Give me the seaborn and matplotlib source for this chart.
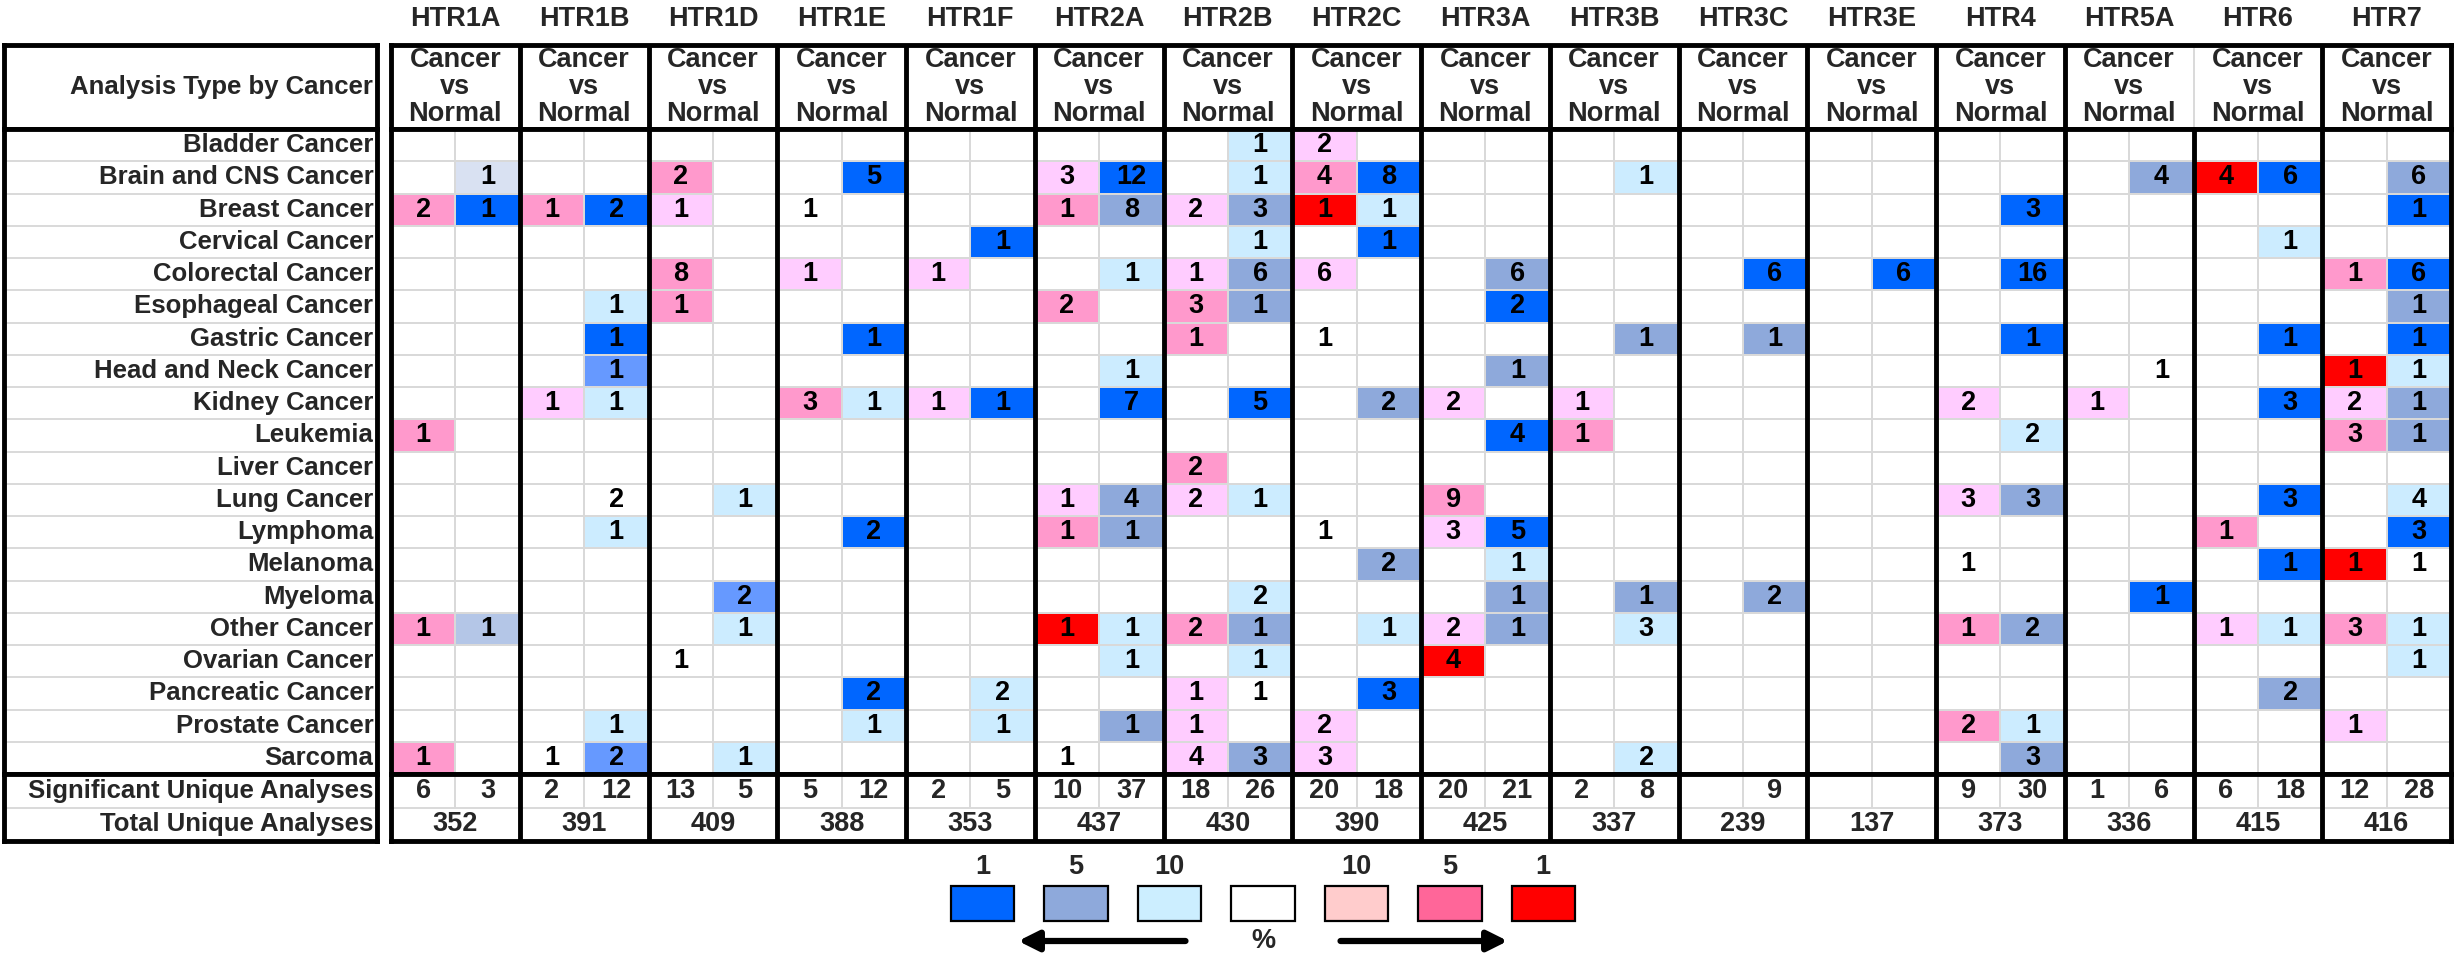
import numpy as np
import pandas as pd
import matplotlib
matplotlib.use("Agg")
import matplotlib.pyplot as plt
from matplotlib.colors import ListedColormap, BoundaryNorm
import seaborn as sns

sns.set_theme(style="white")
plt.rcParams["font.family"] = ["Liberation Sans", "DejaVu Sans"]
plt.rcParams["font.weight"] = "bold"

# ── data ────────────────────────────────────────────────────────────────────
genes = ["HTR1A", "HTR1B", "HTR1D", "HTR1E", "HTR1F", "HTR2A", "HTR2B", "HTR2C",
         "HTR3A", "HTR3B", "HTR3C", "HTR3E", "HTR4", "HTR5A", "HTR6", "HTR7"]

cancer_types = ["Bladder Cancer", "Brain and CNS Cancer", "Breast Cancer", "Cervical Cancer",
                "Colorectal Cancer", "Esophageal Cancer", "Gastric Cancer",
                "Head and Neck Cancer", "Kidney Cancer", "Leukemia", "Liver Cancer",
                "Lung Cancer", "Lymphoma", "Melanoma", "Myeloma", "Other Cancer",
                "Ovarian Cancer", "Pancreatic Cancer", "Prostate Cancer", "Sarcoma"]

# number of analyses per cell, two columns per gene (over-expressed, under-expressed)
cell_counts = [
    [0,0, 0,0, 0,0, 0,0, 0,0, 0,0, 0,1, 2,0, 0,0, 0,0, 0,0, 0,0, 0,0, 0,0, 0,0, 0,0],
    [0,1, 0,0, 2,0, 0,5, 0,0, 3,12, 0,1, 4,8, 0,0, 0,1, 0,0, 0,0, 0,0, 0,4, 4,6, 0,6],
    [2,1, 1,2, 1,0, 1,0, 0,0, 1,8, 2,3, 1,1, 0,0, 0,0, 0,0, 0,0, 0,3, 0,0, 0,0, 0,1],
    [0,0, 0,0, 0,0, 0,0, 0,1, 0,0, 0,1, 0,1, 0,0, 0,0, 0,0, 0,0, 0,0, 0,0, 0,1, 0,0],
    [0,0, 0,0, 8,0, 1,0, 1,0, 0,1, 1,6, 6,0, 0,6, 0,0, 0,6, 0,6, 0,16, 0,0, 0,0, 1,6],
    [0,0, 0,1, 1,0, 0,0, 0,0, 2,0, 3,1, 0,0, 0,2, 0,0, 0,0, 0,0, 0,0, 0,0, 0,0, 0,1],
    [0,0, 0,1, 0,0, 0,1, 0,0, 0,0, 1,0, 1,0, 0,0, 0,1, 0,1, 0,0, 0,1, 0,0, 0,1, 0,1],
    [0,0, 0,1, 0,0, 0,0, 0,0, 0,1, 0,0, 0,0, 0,1, 0,0, 0,0, 0,0, 0,0, 0,1, 0,0, 1,1],
    [0,0, 1,1, 0,0, 3,1, 1,1, 0,7, 0,5, 0,2, 2,0, 1,0, 0,0, 0,0, 2,0, 1,0, 0,3, 2,1],
    [1,0, 0,0, 0,0, 0,0, 0,0, 0,0, 0,0, 0,0, 0,4, 1,0, 0,0, 0,0, 0,2, 0,0, 0,0, 3,1],
    [0,0, 0,0, 0,0, 0,0, 0,0, 0,0, 2,0, 0,0, 0,0, 0,0, 0,0, 0,0, 0,0, 0,0, 0,0, 0,0],
    [0,0, 0,2, 0,1, 0,0, 0,0, 1,4, 2,1, 0,0, 9,0, 0,0, 0,0, 0,0, 3,3, 0,0, 0,3, 0,4],
    [0,0, 0,1, 0,0, 0,2, 0,0, 1,1, 0,0, 1,0, 3,5, 0,0, 0,0, 0,0, 0,0, 0,0, 1,0, 0,3],
    [0,0, 0,0, 0,0, 0,0, 0,0, 0,0, 0,0, 0,2, 0,1, 0,0, 0,0, 0,0, 1,0, 0,0, 0,1, 1,1],
    [0,0, 0,0, 0,2, 0,0, 0,0, 0,0, 0,2, 0,0, 0,1, 0,1, 0,2, 0,0, 0,0, 0,1, 0,0, 0,0],
    [1,1, 0,0, 0,1, 0,0, 0,0, 1,1, 2,1, 0,1, 2,1, 0,3, 0,0, 0,0, 1,2, 0,0, 1,1, 3,1],
    [0,0, 0,0, 1,0, 0,0, 0,0, 0,1, 0,1, 0,0, 4,0, 0,0, 0,0, 0,0, 0,0, 0,0, 0,0, 0,1],
    [0,0, 0,0, 0,0, 0,2, 0,2, 0,0, 1,1, 0,3, 0,0, 0,0, 0,0, 0,0, 0,0, 0,0, 0,2, 0,0],
    [0,0, 0,1, 0,0, 0,1, 0,1, 0,1, 1,0, 2,0, 0,0, 0,0, 0,0, 0,0, 2,1, 0,0, 0,0, 1,0],
    [1,0, 1,2, 0,1, 0,0, 0,0, 1,0, 4,3, 3,0, 0,0, 0,2, 0,0, 0,0, 0,3, 0,0, 0,0, 0,0],
]

# gene rank shade per cell: b/m/g/s/l/v = blue shades (down), q/p/r = red shades (up),
# w = white with a number, . = empty
cell_grades = [
    ".. .. .. .. .. .. .l q. .. .. .. .. .. .. .. ..",
    ".v .. p. .b .. qb .l pb .. .l .. .. .. .g rb .g",
    "pb pb q. w. .. pg qg rl .. .. .. .. .b .. .. .b",
    ".. .. .. .. .b .. .l .b .. .. .. .. .. .. .l ..",
    ".. .. p. q. q. .l qg q. .g .. .b .b .b .. .. pb",
    ".. .l p. .. .. p. pg .. .b .. .. .. .. .. .. .g",
    ".. .b .. .b .. .. p. w. .. .g .g .. .b .. .b .b",
    ".. .m .. .. .. .l .. .. .g .. .. .. .. .w .. rl",
    ".. ql .. pl qb .b .b .g q. q. .. .. q. q. .b qg",
    "p. .. .. .. .. .. .. .. .b p. .. .. .l .. .. pg",
    ".. .. .. .. .. .. p. .. .. .. .. .. .. .. .. ..",
    ".. .w .l .. .. qg ql .. p. .. .. .. qg .. .b .l",
    ".. .l .. .b .. pg .. w. qb .. .. .. .. .. p. .b",
    ".. .. .. .. .. .. .. .g .l .. .. .. w. .. .b rw",
    ".. .. .m .. .. .. .l .. .g .g .g .. .. .b .. ..",
    "ps .. .l .. .. rl pg .l qg .l .. .. pg .. ql pl",
    ".. .. w. .. .. .l .l .. r. .. .. .. .. .. .. .l",
    ".. .. .. .b .l .. qw .b .. .. .. .. .. .. .g ..",
    ".. .l .. .l .l .g q. q. .. .. .. .. pl .. .. q.",
    "p. wm .l .. .. w. qg q. .. .l .. .. .g .. .. ..",
]

sig_up = ["6", "2", "13", "5", "2", "10", "18", "20", "20", "2", "", "", "9", "1", "6", "12"]
sig_down = ["3", "12", "5", "12", "5", "37", "26", "18", "21", "8", "9", "", "30", "6", "18", "28"]
total_analyses = [352, 391, 409, 388, 353, 437, 430, 390, 425, 337, 239, 137, 373, 336, 415, 416]

legend_labels = ["1", "5", "10", "", "10", "5", "1"]
legend_colors = ["#0066FF", "#8EA9DB", "#CCEEFF", "#FFFFFF", "#FFCCCC", "#FF6699", "#FF0000"]

GRADE_KEYS = "bmgslvwqpr"
GRADE_COLORS = ["#0066FF", "#6699FF", "#8EA9DB", "#B4C6E7", "#CCECFF", "#D9E1F2",
                "#FFFFFF", "#FFCCFF", "#FF99CC", "#FF0000"]

# ── layout (pixels of the 2455x957 canvas) ──────────────────────────────────
W, H = 2455, 957
LAB_X0, LAB_X1 = 4, 377
DAT_X0, DAT_X1 = 391, 2451
HEAD_Y0, HEAD_Y1 = 45, 129
BODY_Y1 = 774
SUM_Y1 = 841
THICK, THIN = 3.5, 1.4
GRID = "#D9D9D9"
FS = 19.5       # numbers and headers
FS_LAB = 18.5   # row labels in the left box
LAB_X = 0.99

fig = plt.figure(figsize=(W / 100, H / 100), dpi=100)


def add_ax(x0, y0, x1, y1):
    return fig.add_axes([x0 / W, 1 - y1 / H, (x1 - x0) / W, (y1 - y0) / H])


def frame(ax):
    ax.set_xticks([])
    ax.set_yticks([])
    for s in ax.spines.values():
        s.set_visible(True)
        s.set_color("black")
        s.set_linewidth(THICK)


# header – label side
ax_lh = add_ax(LAB_X0, HEAD_Y0, LAB_X1, HEAD_Y1)
frame(ax_lh)
ax_lh.text(LAB_X, 0.5, "Analysis Type by Cancer", transform=ax_lh.transAxes,
           ha="right", va="center", fontsize=FS_LAB, fontweight="bold")

# header – genes
ax_h = add_ax(DAT_X0, HEAD_Y0, DAT_X1, HEAD_Y1)
ax_h.set_xlim(0, 16)
ax_h.set_ylim(1, 0)
frame(ax_h)
for g in range(1, 16):
    if g == 14:
        ax_h.axvline(g, color=GRID, lw=THIN)
    else:
        ax_h.axvline(g, color="black", lw=THICK)
for g, name in enumerate(genes):
    ax_h.text(g + 0.5, 0.5, "Cancer\nvs\nNormal", ha="center", va="center",
              fontsize=FS, fontweight="bold", linespacing=1.03)
    ax_h.text(g + 0.5, -0.31, name, ha="center", va="center",
              fontsize=FS, fontweight="bold", clip_on=False)

# body – row labels
ax_l = add_ax(LAB_X0, HEAD_Y1, LAB_X1, BODY_Y1)
ax_l.set_xlim(0, 1)
ax_l.set_ylim(len(cancer_types), 0)
frame(ax_l)
for i in range(1, len(cancer_types)):
    ax_l.axhline(i, color=GRID, lw=THIN)
for i, name in enumerate(cancer_types):
    ax_l.text(LAB_X, i + 0.5, name, ha="right", va="center",
              fontsize=FS_LAB, fontweight="bold")

# body – heatmap
grade_mat = np.array([[GRADE_KEYS.index("w" if c == "." else c) - 6
                       for c in row.replace(" ", "")] for row in cell_grades])
grade_df = pd.DataFrame(grade_mat, index=cancer_types)
annot = np.array([[str(v) if v else "" for v in row] for row in cell_counts])
cmap = ListedColormap(GRADE_COLORS)
norm = BoundaryNorm(np.arange(-6.5, 4.5, 1), cmap.N)

ax_b = add_ax(DAT_X0, HEAD_Y1, DAT_X1, BODY_Y1)
sns.heatmap(grade_df, ax=ax_b, cmap=cmap, norm=norm, cbar=False,
            annot=annot, fmt="", linewidths=THIN, linecolor=GRID,
            xticklabels=False, yticklabels=False,
            annot_kws={"color": "black", "fontsize": FS, "fontweight": "bold"})
ax_b.set_xlabel("")
ax_b.set_ylabel("")
frame(ax_b)
for g in range(1, 16):
    ax_b.axvline(2 * g, color="black", lw=THICK)

# summary – labels
ax_ls = add_ax(LAB_X0, BODY_Y1, LAB_X1, SUM_Y1)
ax_ls.set_xlim(0, 1)
ax_ls.set_ylim(2, 0)
frame(ax_ls)
ax_ls.axhline(1, color=GRID, lw=THIN)
ax_ls.text(LAB_X, 0.5, "Significant Unique Analyses", ha="right", va="center",
           fontsize=FS_LAB, fontweight="bold")
ax_ls.text(LAB_X, 1.5, "Total Unique Analyses", ha="right", va="center",
           fontsize=FS_LAB, fontweight="bold")

# summary – values
ax_s = add_ax(DAT_X0, BODY_Y1, DAT_X1, SUM_Y1)
ax_s.set_xlim(0, 32)
ax_s.set_ylim(2, 0)
frame(ax_s)
ax_s.axhline(1, color=GRID, lw=THIN)
ax_s.vlines(np.arange(1, 32, 2), 0, 1, color=GRID, lw=THIN)
for g in range(1, 16):
    ax_s.axvline(2 * g, color="black", lw=THICK)
for g in range(len(genes)):
    ax_s.text(2 * g + 0.5, 0.5, sig_up[g], ha="center", va="center",
              fontsize=FS, fontweight="bold")
    ax_s.text(2 * g + 1.5, 0.5, sig_down[g], ha="center", va="center",
              fontsize=FS, fontweight="bold")
    ax_s.text(2 * g + 1, 1.5, str(total_analyses[g]), ha="center", va="center",
              fontsize=FS, fontweight="bold")

# legend
ax_k = add_ax(936, 850, 1590, 957)
ax_k.set_xlim(-0.5, 6.5)
ax_k.set_ylim(957, 850)
ax_k.axis("off")
ax_k.bar(range(len(legend_colors)), 35, bottom=886, width=0.68,
         color=legend_colors, edgecolor="black", linewidth=1.6)
for i, lab in enumerate(legend_labels):
    ax_k.text(i, 867, lab, ha="center", va="center", fontsize=FS, fontweight="bold")
ax_k.text(3, 941, "%", ha="center", va="center", fontsize=FS, fontweight="bold")
arrow = dict(arrowstyle="-|>", lw=4.5, color="black", mutation_scale=30)
ax_k.annotate("", xy=(0.35, 941), xytext=(2.2, 941), arrowprops=arrow)
ax_k.annotate("", xy=(5.65, 941), xytext=(3.8, 941), arrowprops=arrow)

fig.savefig("out.png", dpi=100, facecolor="white")
